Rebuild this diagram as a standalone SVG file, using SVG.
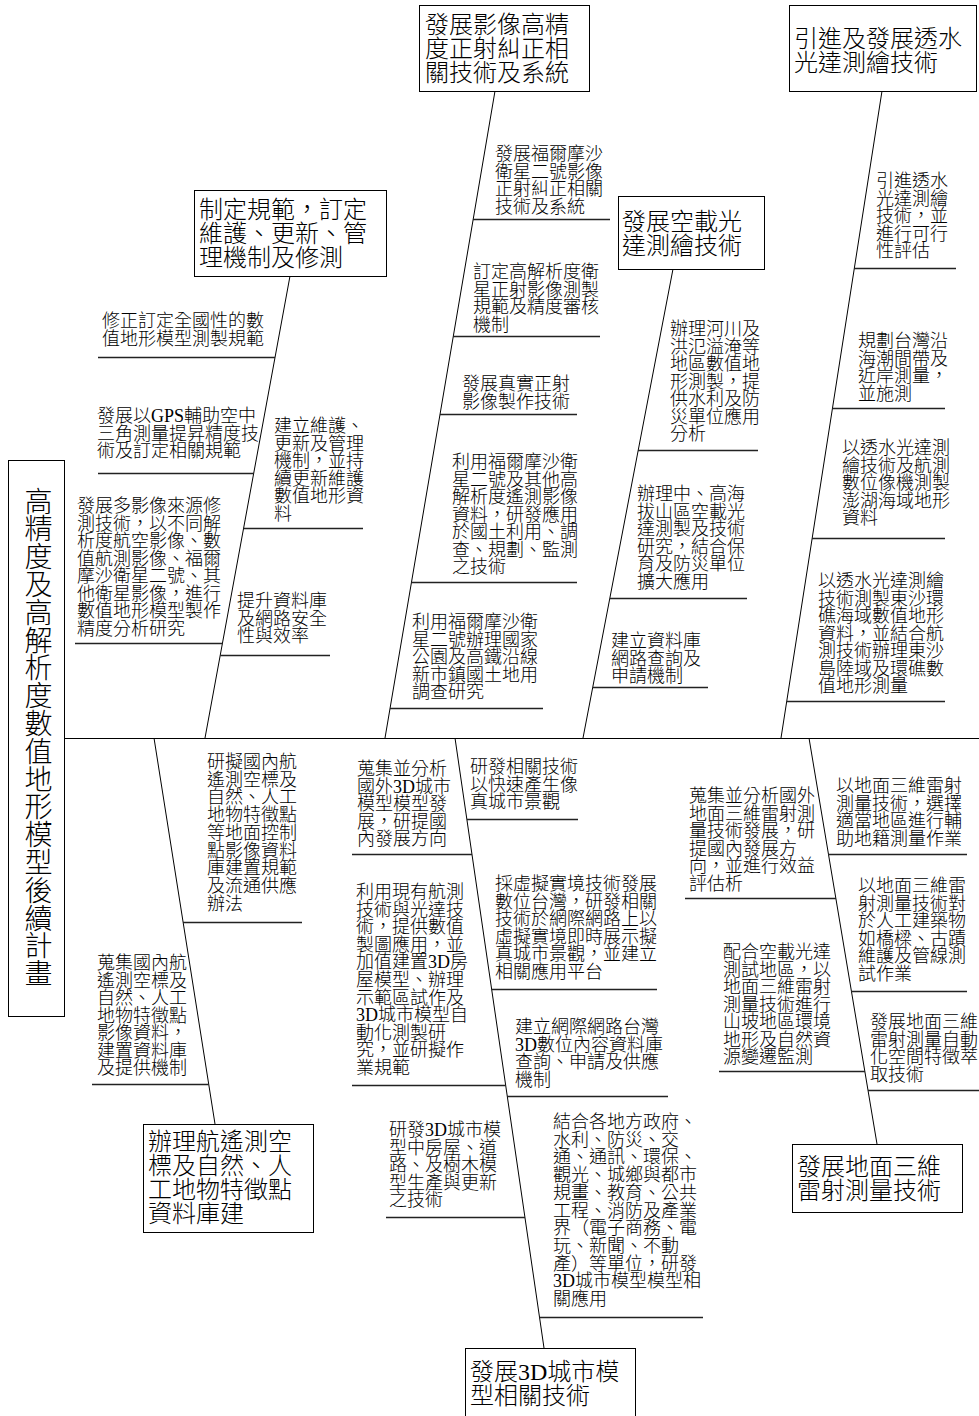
<svg xmlns="http://www.w3.org/2000/svg" width="979" height="1416" viewBox="0 0 979 1416">
<style>
.s{font-family:"Liberation Serif","Noto Sans CJK TC",serif;font-size:18px;font-weight:300;fill:#000}
.c{font-size:24px}
.h{font-size:28px}
.box{fill:#fff;stroke:#000;stroke-width:1}
.ln{stroke:#000;stroke-width:1;fill:none}
.hl{stroke:#222;stroke-width:1.3;fill:none}
</style>
<rect width="979" height="1416" fill="#fff"/>
<g id="connectors">
<path class="ln" d="M64 738.5H979"/>
<path class="ln" d="M290 276L205 738M495 91L385 738M673 269L583 738M882 91L781 738M154 738L215 1124M455 738L544 1348M809 738L877 1144"/>
<path class="hl" d="M98 357.5H275M98 473.5H254M75 643.5H222.5M243.6 528.5H363M220.3 655.5H330M473 219.5H610M453 336.5H600M440 414.5H577M411.5 582.5H577M390 708.5H543M638 450.5H758M610 598.5H747M593 687.5H708M854 268.5H956M832.5 408.5H945M812 538.5H945M787 701.5H945M183 922.5H302M92 1084.5H208.7M352 854.5H472M352 1085.5H505.6M386 1217.5H525M467 819.5H578M491.6 989.5H657M507 1096.5H668M539.5 1317.5H703M685 898.5H836M719 1071.5H865M828 854.5H967M851 991.5H967M868 1090.5H979"/>
</g>
<g id="head">
<rect class="box" x="8.5" y="460.5" width="56" height="556"/>
<text class="s h" x="36" y="487" writing-mode="vertical-rl" letter-spacing="-0.2">高精度及高解析度數值地形模型後續計畫</text>
</g>
<g id="cat1">
<rect class="box" x="194.5" y="190.5" width="192" height="86"/>
<text class="s c"><tspan x="199" y="218">制定規範，訂定</tspan><tspan x="199" dy="24">維護、更新、管</tspan><tspan x="199" dy="24">理機制及修測</tspan></text>
</g>
<g id="cat2">
<rect class="box" x="419.5" y="5.5" width="170" height="86"/>
<text class="s c"><tspan x="425" y="33">發展影像高精</tspan><tspan x="425" dy="24">度正射糾正相</tspan><tspan x="425" dy="24">關技術及系統</tspan></text>
</g>
<g id="cat3">
<rect class="box" x="618.5" y="196.5" width="146" height="73"/>
<text class="s c"><tspan x="622" y="230">發展空載光</tspan><tspan x="622" dy="24">達測繪技術</tspan></text>
</g>
<g id="cat4">
<rect class="box" x="789.5" y="5.5" width="187" height="86"/>
<text class="s c"><tspan x="794" y="47">引進及發展透水</tspan><tspan x="794" dy="24">光達測繪技術</tspan></text>
</g>
<g id="cat5">
<rect class="box" x="143.5" y="1124.5" width="170" height="108"/>
<text class="s c"><tspan x="148" y="1150">辦理航遙測空</tspan><tspan x="148" dy="24">標及自然、人</tspan><tspan x="148" dy="24">工地物特徵點</tspan><tspan x="148" dy="24">資料庫建</tspan></text>
</g>
<g id="cat6">
<rect class="box" x="465.5" y="1348.5" width="170" height="70"/>
<text class="s c"><tspan x="470" y="1380">發展3D城市模</tspan><tspan x="470" dy="24">型相關技術</tspan></text>
</g>
<g id="cat7">
<rect class="box" x="792.5" y="1144.5" width="170" height="68"/>
<text class="s c"><tspan x="797" y="1175">發展地面三維</tspan><tspan x="797" dy="24">雷射測量技術</tspan></text>
</g>
<g id="c1a"><text class="s"><tspan x="102" y="327">修正訂定全國性的數</tspan><tspan x="102" dy="17.5">值地形模型測製規範</tspan></text></g>
<g id="c1b"><text class="s"><tspan x="97" y="422">發展以GPS輔助空中</tspan><tspan x="97" dy="17.5">三角測量提昇精度技</tspan><tspan x="97" dy="17.5">術及訂定相關規範</tspan></text></g>
<g id="c1c"><text class="s"><tspan x="77" y="512">發展多影像來源修</tspan><tspan x="77" dy="17.5">測技術，以不同解</tspan><tspan x="77" dy="17.5">析度航空影像、數</tspan><tspan x="77" dy="17.5">值航測影像、福爾</tspan><tspan x="77" dy="17.5">摩沙衛星二號、其</tspan><tspan x="77" dy="17.5">他衛星影像，進行</tspan><tspan x="77" dy="17.5">數值地形模型製作</tspan><tspan x="77" dy="17.5">精度分析研究</tspan></text></g>
<g id="c1d"><text class="s"><tspan x="274" y="432">建立維護、</tspan><tspan x="274" dy="17.5">更新及管理</tspan><tspan x="274" dy="17.5">機制，並持</tspan><tspan x="274" dy="17.5">續更新維護</tspan><tspan x="274" dy="17.5">數值地形資</tspan><tspan x="274" dy="17.5">料</tspan></text></g>
<g id="c1e"><text class="s"><tspan x="237" y="607">提升資料庫</tspan><tspan x="237" dy="17.5">及網路安全</tspan><tspan x="237" dy="17.5">性與效率</tspan></text></g>
<g id="c2a"><text class="s"><tspan x="495" y="160">發展福爾摩沙</tspan><tspan x="495" dy="17.5">衛星二號影像</tspan><tspan x="495" dy="17.5">正射糾正相關</tspan><tspan x="495" dy="17.5">技術及系統</tspan></text></g>
<g id="c2b"><text class="s"><tspan x="473" y="278">訂定高解析度衛</tspan><tspan x="473" dy="17.5">星正射影像測製</tspan><tspan x="473" dy="17.5">規範及精度審核</tspan><tspan x="473" dy="17.5">機制</tspan></text></g>
<g id="c2c"><text class="s"><tspan x="462" y="390">發展真實正射</tspan><tspan x="462" dy="17.5">影像製作技術</tspan></text></g>
<g id="c2d"><text class="s"><tspan x="452" y="468">利用福爾摩沙衛</tspan><tspan x="452" dy="17.5">星二號及其他高</tspan><tspan x="452" dy="17.5">解析度遙測影像</tspan><tspan x="452" dy="17.5">資料，研發應用</tspan><tspan x="452" dy="17.5">於國土利用、調</tspan><tspan x="452" dy="17.5">查、規劃、監測</tspan><tspan x="452" dy="17.5">之技術</tspan></text></g>
<g id="c2e"><text class="s"><tspan x="412" y="628">利用福爾摩沙衛</tspan><tspan x="412" dy="17.5">星二號辦理國家</tspan><tspan x="412" dy="17.5">公園及高鐵沿線</tspan><tspan x="412" dy="17.5">新市鎮國土地用</tspan><tspan x="412" dy="17.5">調查研究</tspan></text></g>
<g id="c3a"><text class="s"><tspan x="670" y="335">辦理河川及</tspan><tspan x="670" dy="17.5">洪氾溢淹等</tspan><tspan x="670" dy="17.5">地區數值地</tspan><tspan x="670" dy="17.5">形測製，提</tspan><tspan x="670" dy="17.5">供水利及防</tspan><tspan x="670" dy="17.5">災單位應用</tspan><tspan x="670" dy="17.5">分析</tspan></text></g>
<g id="c3b"><text class="s"><tspan x="637" y="500">辦理中、高海</tspan><tspan x="637" dy="17.5">拔山區空載光</tspan><tspan x="637" dy="17.5">達測製及技術</tspan><tspan x="637" dy="17.5">研究，結合保</tspan><tspan x="637" dy="17.5">育及防災單位</tspan><tspan x="637" dy="17.5">擴大應用</tspan></text></g>
<g id="c3c"><text class="s"><tspan x="611" y="647">建立資料庫</tspan><tspan x="611" dy="17.5">網路查詢及</tspan><tspan x="611" dy="17.5">申請機制</tspan></text></g>
<g id="c4a"><text class="s"><tspan x="876" y="187">引進透水</tspan><tspan x="876" dy="17.5">光達測繪</tspan><tspan x="876" dy="17.5">技術，並</tspan><tspan x="876" dy="17.5">進行可行</tspan><tspan x="876" dy="17.5">性評估</tspan></text></g>
<g id="c4b"><text class="s"><tspan x="858" y="347">規劃台灣沿</tspan><tspan x="858" dy="17.5">海潮間帶及</tspan><tspan x="858" dy="17.5">近岸測量，</tspan><tspan x="858" dy="17.5">並施測</tspan></text></g>
<g id="c4c"><text class="s"><tspan x="842" y="454">以透水光達測</tspan><tspan x="842" dy="17.5">繪技術及航測</tspan><tspan x="842" dy="17.5">數位像機測製</tspan><tspan x="842" dy="17.5">澎湖海域地形</tspan><tspan x="842" dy="17.5">資料</tspan></text></g>
<g id="c4d"><text class="s"><tspan x="818" y="587">以透水光達測繪</tspan><tspan x="818" dy="17.5">技術測製東沙環</tspan><tspan x="818" dy="17.5">礁海域數值地形</tspan><tspan x="818" dy="17.5">資料，並結合航</tspan><tspan x="818" dy="17.5">測技術辦理東沙</tspan><tspan x="818" dy="17.5">島陸域及環礁數</tspan><tspan x="818" dy="17.5">值地形測量</tspan></text></g>
<g id="c5a"><text class="s"><tspan x="207" y="768">研擬國內航</tspan><tspan x="207" dy="17.7">遙測空標及</tspan><tspan x="207" dy="17.7">自然、人工</tspan><tspan x="207" dy="17.7">地物特徵點</tspan><tspan x="207" dy="17.7">等地面控制</tspan><tspan x="207" dy="17.7">點影像資料</tspan><tspan x="207" dy="17.7">庫建置規範</tspan><tspan x="207" dy="17.7">及流通供應</tspan><tspan x="207" dy="17.7">辦法</tspan></text></g>
<g id="c5b"><text class="s"><tspan x="97" y="969">蒐集國內航</tspan><tspan x="97" dy="17.5">遙測空標及</tspan><tspan x="97" dy="17.5">自然、人工</tspan><tspan x="97" dy="17.5">地物特徵點</tspan><tspan x="97" dy="17.5">影像資料，</tspan><tspan x="97" dy="17.5">建置資料庫</tspan><tspan x="97" dy="17.5">及提供機制</tspan></text></g>
<g id="c6a"><text class="s"><tspan x="357" y="775">蒐集並分析</tspan><tspan x="357" dy="17.5">國外3D城市</tspan><tspan x="357" dy="17.5">模型模型發</tspan><tspan x="357" dy="17.5">展，研提國</tspan><tspan x="357" dy="17.5">內發展方向</tspan></text></g>
<g id="c6b"><text class="s"><tspan x="356" y="898">利用現有航測</tspan><tspan x="356" dy="17.6">技術與光達技</tspan><tspan x="356" dy="17.6">術，提供數值</tspan><tspan x="356" dy="17.6">製圖應用，並</tspan><tspan x="356" dy="17.6">加值建置3D房</tspan><tspan x="356" dy="17.6">屋模型、辦理</tspan><tspan x="356" dy="17.6">示範區試作及</tspan><tspan x="356" dy="17.6">3D城市模型自</tspan><tspan x="356" dy="17.6">動化測製研</tspan><tspan x="356" dy="17.6">究，並研擬作</tspan><tspan x="356" dy="17.6">業規範</tspan></text></g>
<g id="c6c"><text class="s"><tspan x="389" y="1136">研發3D城市模</tspan><tspan x="389" dy="17.5">型中房屋、道</tspan><tspan x="389" dy="17.5">路、及樹木模</tspan><tspan x="389" dy="17.5">型生產與更新</tspan><tspan x="389" dy="17.5">之技術</tspan></text></g>
<g id="c6d"><text class="s"><tspan x="470" y="773">研發相關技術</tspan><tspan x="470" dy="17.5">以快速產生像</tspan><tspan x="470" dy="17.5">真城市景觀</tspan></text></g>
<g id="c6e"><text class="s"><tspan x="495" y="890">採虛擬實境技術發展</tspan><tspan x="495" dy="17.5">數位台灣，研發相關</tspan><tspan x="495" dy="17.5">技術於網際網路上以</tspan><tspan x="495" dy="17.5">虛擬實境即時展示擬</tspan><tspan x="495" dy="17.5">真城市景觀，並建立</tspan><tspan x="495" dy="17.5">相關應用平台</tspan></text></g>
<g id="c6f"><text class="s"><tspan x="515" y="1033">建立網際網路台灣</tspan><tspan x="515" dy="17.5">3D數位內容資料庫</tspan><tspan x="515" dy="17.5">查詢、申請及供應</tspan><tspan x="515" dy="17.5">機制</tspan></text></g>
<g id="c6g"><text class="s"><tspan x="553" y="1128">結合各地方政府、</tspan><tspan x="553" dy="17.7">水利、防災、交</tspan><tspan x="553" dy="17.7">通、通訊、環保、</tspan><tspan x="553" dy="17.7">觀光、城鄉與都市</tspan><tspan x="553" dy="17.7">規畫、教育、公共</tspan><tspan x="553" dy="17.7">工程、消防及產業</tspan><tspan x="553" dy="17.7">界（電子商務、電</tspan><tspan x="553" dy="17.7">玩、新聞、不動</tspan><tspan x="553" dy="17.7">產）等單位，研發</tspan><tspan x="553" dy="17.7">3D城市模型模型相</tspan><tspan x="553" dy="17.7">關應用</tspan></text></g>
<g id="c7a"><text class="s"><tspan x="689" y="802">蒐集並分析國外</tspan><tspan x="689" dy="17.6">地面三維雷射測</tspan><tspan x="689" dy="17.6">量技術發展，研</tspan><tspan x="689" dy="17.6">提國內發展方</tspan><tspan x="689" dy="17.6">向，並進行效益</tspan><tspan x="689" dy="17.6">評估析</tspan></text></g>
<g id="c7b"><text class="s"><tspan x="723" y="958">配合空載光達</tspan><tspan x="723" dy="17.5">測試地區，以</tspan><tspan x="723" dy="17.5">地面三維雷射</tspan><tspan x="723" dy="17.5">測量技術進行</tspan><tspan x="723" dy="17.5">山坡地區環境</tspan><tspan x="723" dy="17.5">地形及自然資</tspan><tspan x="723" dy="17.5">源變遷監測</tspan></text></g>
<g id="c7c"><text class="s"><tspan x="836" y="792">以地面三維雷射</tspan><tspan x="836" dy="17.5">測量技術，選擇</tspan><tspan x="836" dy="17.5">適當地區進行輔</tspan><tspan x="836" dy="17.5">助地籍測量作業</tspan></text></g>
<g id="c7d"><text class="s"><tspan x="858" y="892">以地面三維雷</tspan><tspan x="858" dy="17.5">射測量技術對</tspan><tspan x="858" dy="17.5">於人工建築物</tspan><tspan x="858" dy="17.5">如橋樑、古蹟</tspan><tspan x="858" dy="17.5">維護及管線測</tspan><tspan x="858" dy="17.5">試作業</tspan></text></g>
<g id="c7e"><text class="s"><tspan x="870" y="1028">發展地面三維</tspan><tspan x="870" dy="17.5">雷射測量自動</tspan><tspan x="870" dy="17.5">化空間特徵萃</tspan><tspan x="870" dy="17.5">取技術</tspan></text></g>
</svg>
